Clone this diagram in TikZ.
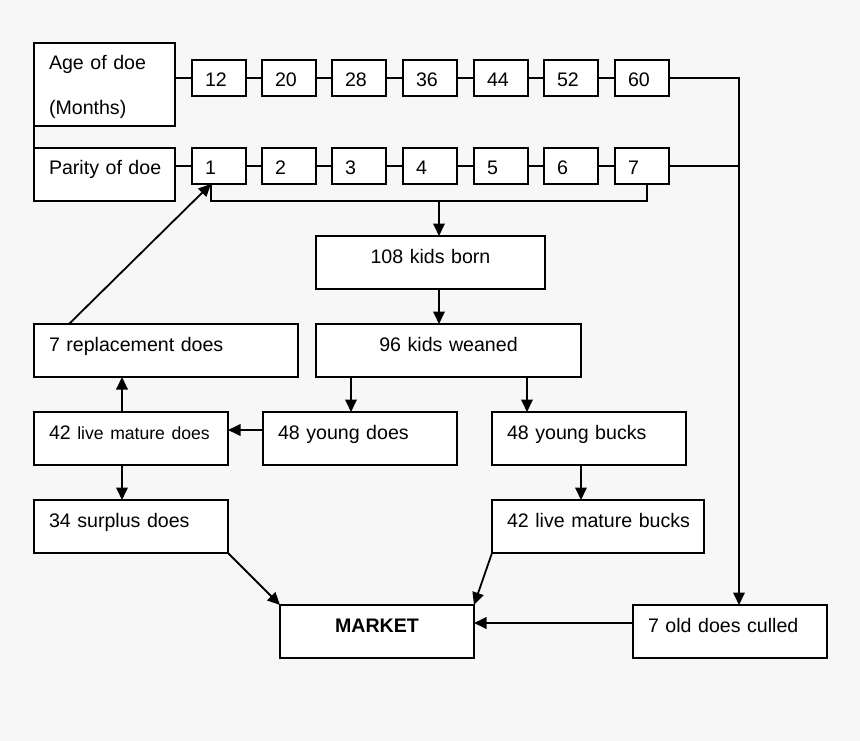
\documentclass[tikz,border=0pt]{standalone}
\usepackage{fontspec}
\setmainfont{Liberation Sans}
\usetikzlibrary{arrows.meta}
\definecolor{paper}{HTML}{F7F7F7}

\begin{document}
\begin{tikzpicture}[x=1pt, y=-1pt, line width=1.8pt,
    font=\fontsize{19.6}{23.5}\selectfont,
    box/.style={draw, fill=white, anchor=north west, inner xsep=15pt, inner ysep=0pt,
      outer sep=0pt, text height=27pt, text depth=26pt, align=left},
    numbox/.style={box, inner xsep=13pt, text width=28pt, text depth=9pt},
    flow/.style={-{Triangle[length=12.5pt, width=11.5pt]}}]
      \useasboundingbox[fill=paper] (0,0) rectangle (860,741);
      \node[box, text width=111pt, text depth=56pt] (age) at (34,43) {Age of doe\\[21.5pt](Months)};
      \node[box, text width=111pt] (parity) at (34,148) {\mbox{Parity of doe}};
      \foreach \v/\w/\x [count=\i] in {12/1/192, 20/2/262, 28/3/332, 36/4/403, 44/5/474, 52/6/544, 60/7/615} {
        \node[numbox] (a\i) at (\x,60) {\v};
        \node[numbox] (p\i) at (\x,148) {\w};
      }
      \node[box, text width=234pt] (repl) at (34,324) {7 replacement does};
      \node[box, text width=199pt, align=center] (born) at (316,236) {108 kids born};
      \node[box, text width=235pt, align=center] (weaned) at (316,324) {96 kids weaned};
      \node[box, text width=164pt] (mdoes) at (34,412) {42 {\fontsize{17.6}{21}\selectfont live mature does}};
      \node[box, text width=164pt] (ydoes) at (263,412) {48 young does};
      \node[box, text width=164pt] (ybucks) at (492,412) {48 young bucks};
      \node[box, text width=164pt] (surplus) at (34,500) {34 surplus does};
      \node[box, text width=182pt] (mbucks) at (492,500) {\mbox{42 live mature bucks}};
      \node[box, text width=164pt, align=center] (market) at (280,605) {\bfseries MARKET};
      \node[box, text width=164pt] (culled) at (633,605) {7 old does culled};
      % rows of months and parities
      \draw (age.south west) -- (parity.north west);
      \draw (age.east |- a1.west) -- (a1.west);
      \draw (parity.east |- p1.west) -- (p1.west);
      \foreach \i/\j in {1/2, 2/3, 3/4, 4/5, 5/6, 6/7} {
        \draw (a\i.east) -- (a\j.west);
        \draw (p\i.east) -- (p\j.west);
      }
      \coordinate (drop) at (739,78);
      \draw[flow] (a7.east) -- (drop) -- (drop |- culled.north);
      \draw (p7.east) -- (p7.east -| drop);
      % bracket under the parities
      \path (p1.south west) ++(19,0) coordinate (bl);
      \path (p7.south) ++(5,0) coordinate (br);
      \coordinate (split) at (439,201);
      \draw (bl) -- (bl |- split) -- (br |- split) -- (br);
      \draw[flow] (split) -- (split |- born.north);
      \draw[flow] (born.south -| split) -- (weaned.north -| split);
      \path (ydoes.north west) ++(88,0) coordinate (dtop);
      \path (ybucks.north west) ++(35,0) coordinate (btop);
      \draw[flow] (weaned.south -| dtop) -- (dtop);
      \draw[flow] (weaned.south -| btop) -- (btop);
      \path (mbucks.north west) ++(89,0) coordinate (mtop);
      \draw[flow] (ybucks.south -| mtop) -- (mtop);
      \path (ydoes.north west) ++(0,18) coordinate (dleft);
      \draw[flow] (dleft) -- (dleft -| mdoes.east);
      \path (mdoes.north west) ++(88,0) coordinate (up);
      \draw[flow] (up) -- (up |- repl.south);
      \draw[flow] (mdoes.south -| up) -- (surplus.north -| up);
      \path (repl.north west) ++(35,0) coordinate (rtop);
      \draw[flow] (rtop) -- (bl);
      % to the market
      \draw[flow] (surplus.south east) -- (market.north west);
      \draw[flow] (mbucks.south west) -- (market.north east);
      \path (culled.north west) ++(0,18) coordinate (cleft);
      \draw[flow] (cleft) -- (cleft -| market.east);
\end{tikzpicture}
\end{document}
